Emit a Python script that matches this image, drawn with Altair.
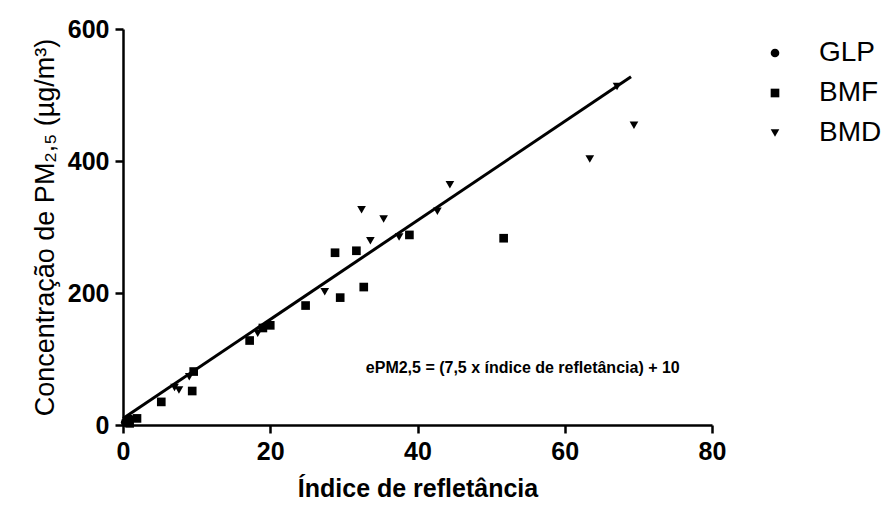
import altair as alt
import pandas as pd

# Reflectance index (x) and PM2.5 concentration (y) per fuel group
glp_x = [0.3, 0.6, 1.0]
glp_y = [4, 6, 9]

bmf_x = [0.9, 1.9, 5.2, 9.4, 9.6, 17.2, 19.0, 20.0, 24.8, 28.8, 29.5, 31.7, 32.7, 38.9, 51.7]
bmf_y = [2.5, 10, 35, 51.5, 81, 128, 147, 151, 181, 261, 193, 264, 209, 288, 283]

bmd_x = [7.0, 7.6, 9.0, 18.3, 27.4, 32.4, 33.6, 35.4, 37.5, 42.7, 44.4, 63.4, 67.1, 69.4]
bmd_y = [57, 53, 73, 139, 202, 326, 279, 312, 285, 324, 364, 403, 513, 454]

groups = ["GLP", "BMF", "BMD"]
shapes = ["circle", "square", "triangle-down"]

# Regression: ePM2,5 = 7,5 x IR + 10
slope = 7.5
intercept = 10
line_x = [0, 69]

equation = "ePM2,5 = (7,5 x índice de refletância) + 10"
eq_pos_x = [54.3]
eq_pos_y = [86]

x_ticks = [0, 20, 40, 60, 80]
y_ticks = [0, 200, 400, 600]

points = pd.DataFrame(
    {
        "x": glp_x + bmf_x + bmd_x,
        "y": glp_y + bmf_y + bmd_y,
        "grupo": ["GLP"] * len(glp_x) + ["BMF"] * len(bmf_x) + ["BMD"] * len(bmd_x),
    }
)
fit = pd.DataFrame({"x": line_x, "y": [slope * v + intercept for v in line_x]})
note = pd.DataFrame({"x": eq_pos_x, "y": eq_pos_y, "t": [equation]})

x_enc = alt.X(
    "x:Q",
    scale=alt.Scale(domain=[0, 80], nice=False),
    axis=alt.Axis(values=x_ticks, title="Índice de refletância", format="d"),
)
y_enc = alt.Y(
    "y:Q",
    scale=alt.Scale(domain=[0, 600], nice=False),
    axis=alt.Axis(values=y_ticks, title="Concentração de PM₂,₅ (µg/m³)", format="d"),
)

scatter = (
    alt.Chart(points)
    .mark_point(filled=True, color="black", opacity=1, size=75)
    .encode(
        x=x_enc,
        y=y_enc,
        shape=alt.Shape(
            "grupo:N",
            scale=alt.Scale(domain=groups, range=shapes),
            legend=alt.Legend(title=None),
        ),
    )
)

reg = (
    alt.Chart(fit)
    .mark_line(color="black", strokeWidth=3)
    .encode(x="x:Q", y="y:Q")
)

label = (
    alt.Chart(note)
    .mark_text(font="Liberation Sans", fontWeight="bold", fontSize=16, color="black")
    .encode(x="x:Q", y="y:Q", text="t:N")
)

chart = (
    alt.layer(reg, scatter, label)
    .properties(
        width=589,
        height=396,
        autosize=alt.AutoSizeParams(type="none"),
        padding={"left": 123, "top": 29, "right": 179, "bottom": 91},
        background="white",
    )
    .configure_view(stroke=None)
    .configure_axis(
        grid=False,
        domainColor="black",
        domainWidth=2.5,
        tickColor="black",
        tickWidth=2.5,
        tickSize=8,
        labelFont="Liberation Sans",
        labelFontWeight="bold",
        labelFontSize=25,
        labelColor="black",
        labelPadding=6,
        titleColor="black",
    )
    .configure_axisX(
        titleFont="Liberation Sans",
        titleFontWeight="bold",
        titleFontSize=25,
        titlePadding=12,
        labelFlush=False,
    )
    .configure_axisY(
        titleFont="Liberation Sans",
        titleFontWeight="normal",
        titleFontSize=27,
        titlePadding=8,
    )
    .configure_legend(
        orient="none",
        legendX=638,
        legendY=10,
        labelFont="Liberation Sans",
        labelFontSize=28,
        labelColor="black",
        labelOffset=30,
        symbolSize=75,
        symbolFillColor="black",
        symbolStrokeColor="black",
        rowPadding=12,
    )
)

chart.save("out.html", embed_options={"renderer": "svg", "actions": False})
